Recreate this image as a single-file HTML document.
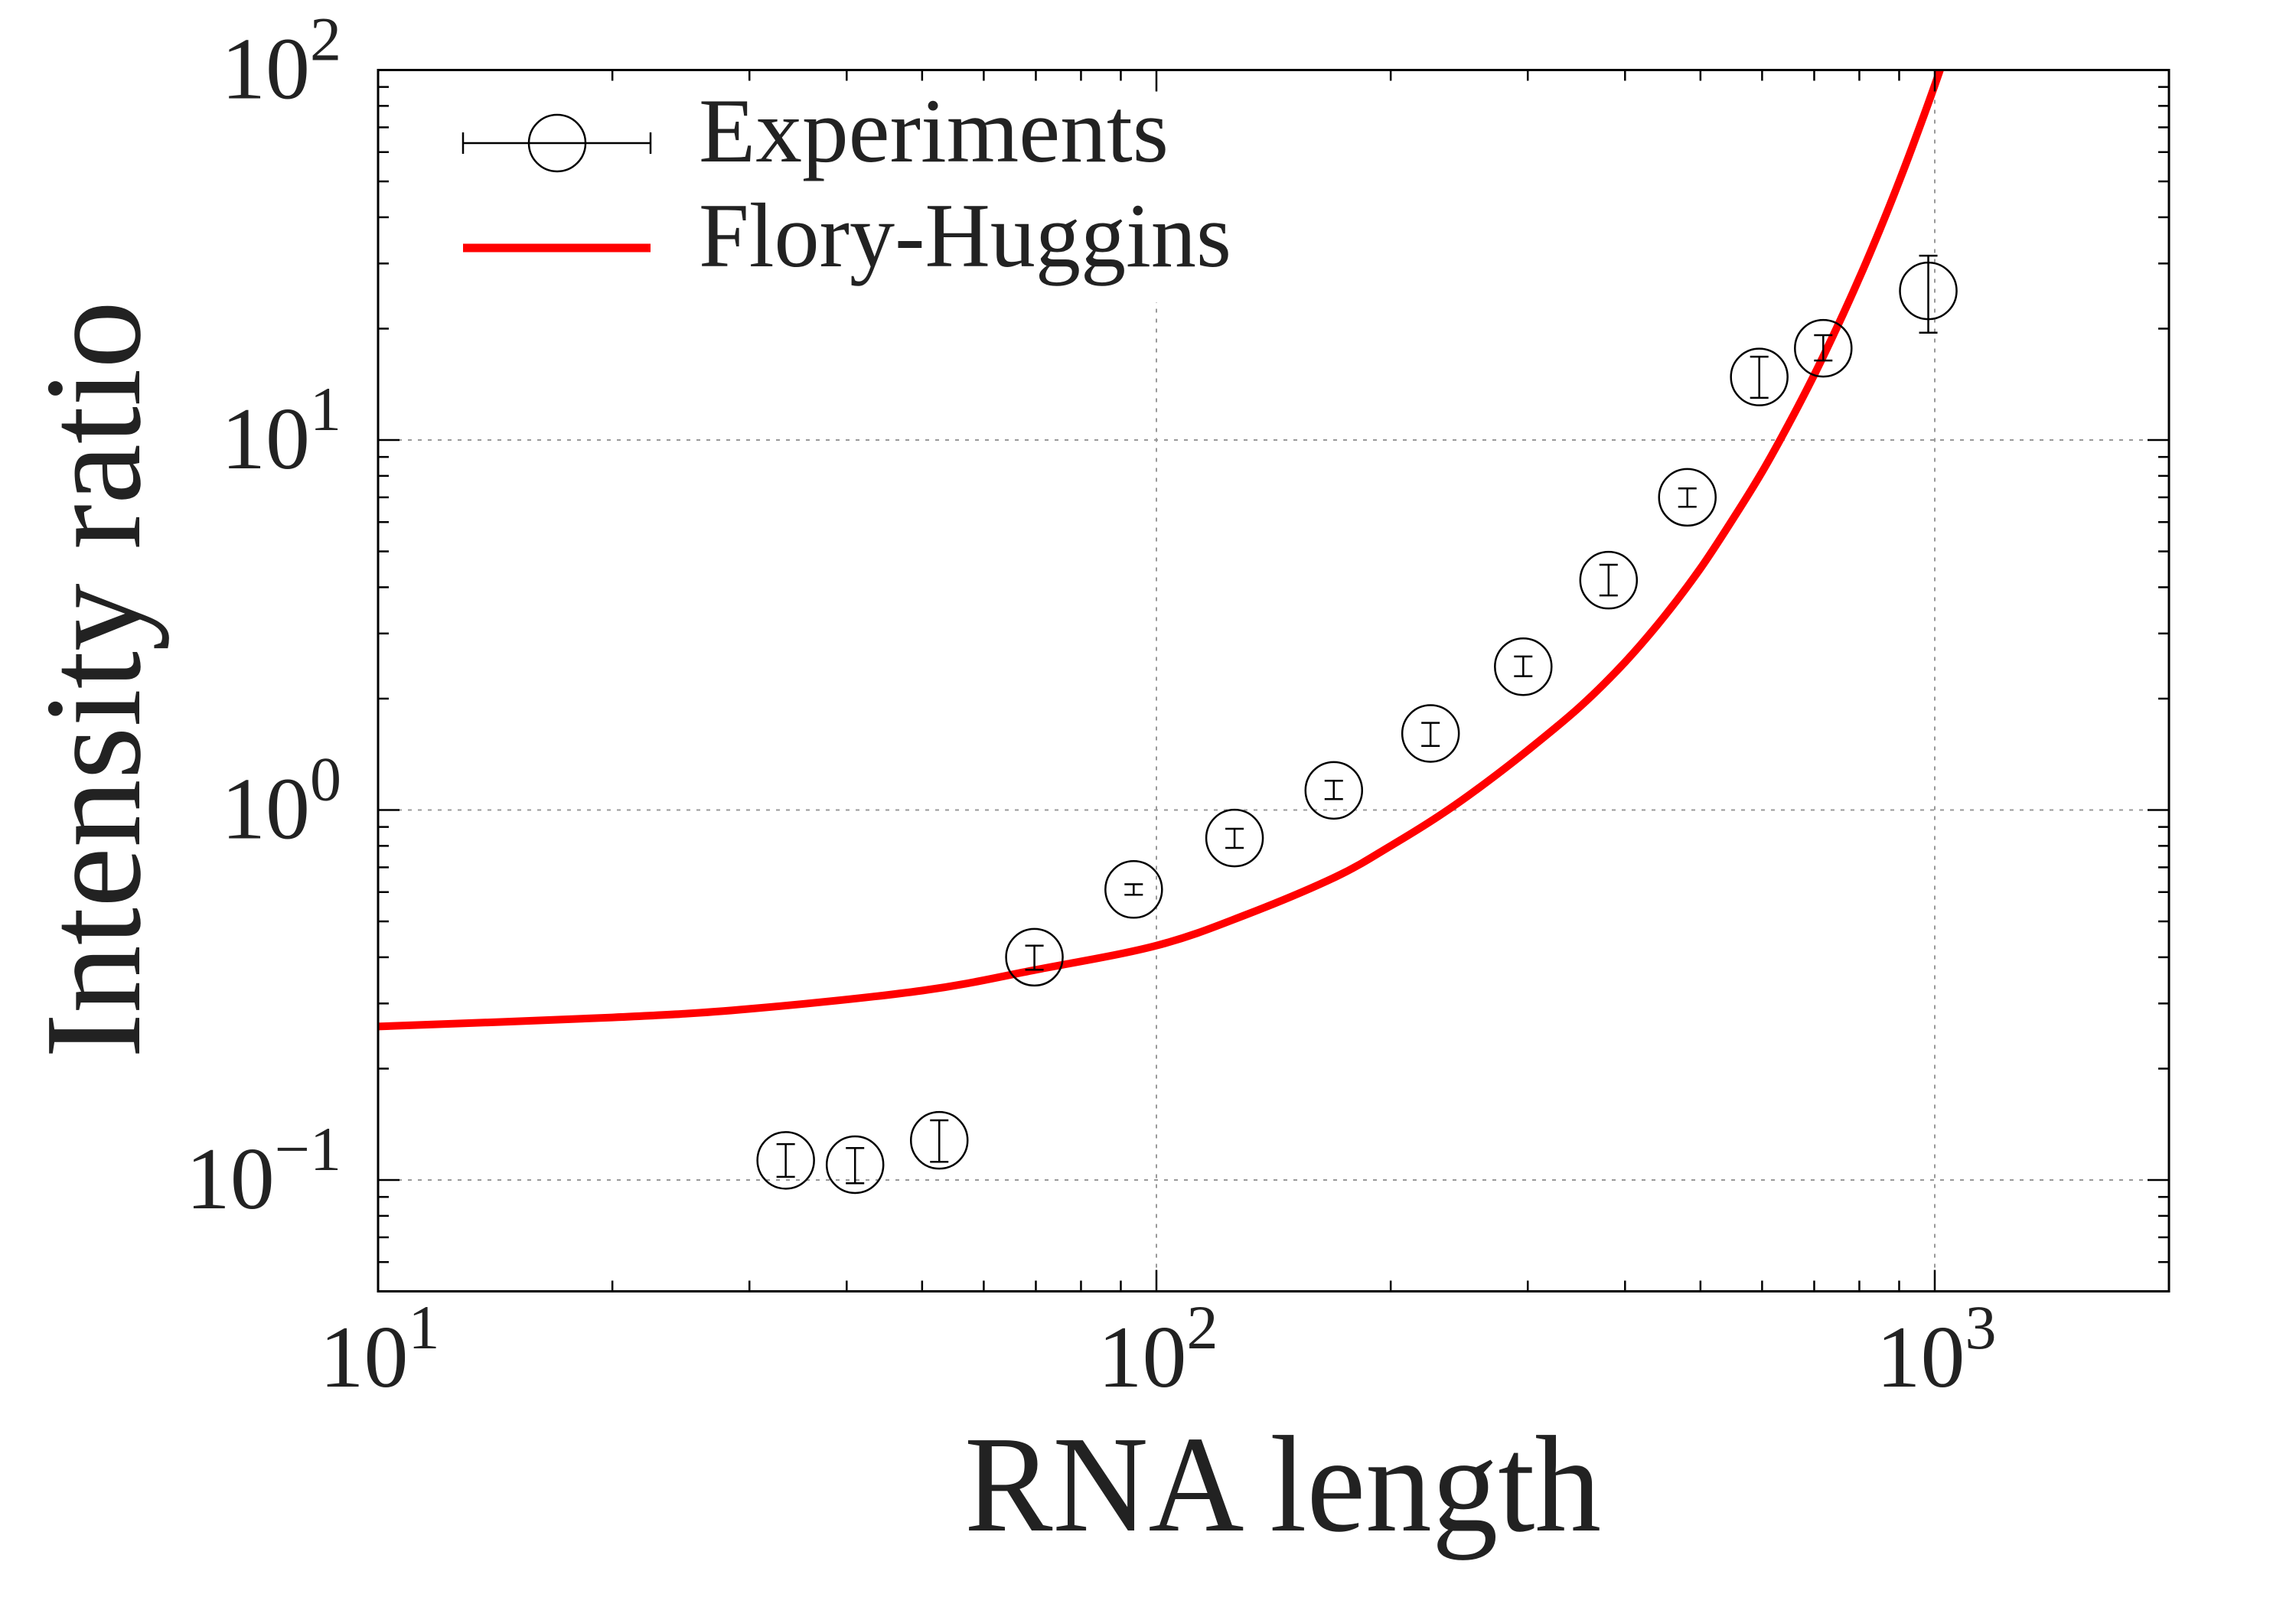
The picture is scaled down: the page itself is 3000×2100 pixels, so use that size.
<!DOCTYPE html>
<html><head><meta charset="utf-8"><style>
html,body{margin:0;padding:0;background:#fff;}
svg{display:block;font-family:"Liberation Serif",serif;}
</style></head><body>
<svg id="chart" width="3000" height="2100" viewBox="0 0 3000 2100" xmlns="http://www.w3.org/2000/svg">
<rect width="3000" height="2100" fill="#fff"/>
<defs><clipPath id="plotclip"><rect x="494" y="91.5" width="2340" height="1596"/></clipPath></defs>
<g id="grid"></g>
<g id="curve" clip-path="url(#plotclip)"></g>
<g id="points"></g>
<g id="legend">
  <rect x="540" y="100" width="1110" height="295" fill="#fff"/>
  <g>
    <line x1="605" y1="187" x2="850" y2="187" stroke="#000" stroke-width="2.5"/>
    <line x1="605" y1="173" x2="605" y2="201" stroke="#000" stroke-width="2.5"/>
    <line x1="850" y1="173" x2="850" y2="201" stroke="#000" stroke-width="2.5"/>
    <circle cx="728" cy="187" r="37" fill="none" stroke="#000" stroke-width="2.5"/>
    <text x="913" y="211" font-size="120" fill="#222" textLength="614" lengthAdjust="spacingAndGlyphs">Experiments</text>
  </g>
  <g>
    <line x1="605" y1="324" x2="850" y2="324" stroke="#ff0000" stroke-width="11"/>
    <text x="913" y="348" font-size="120" fill="#222" textLength="696" lengthAdjust="spacingAndGlyphs">Flory-Huggins</text>
  </g>
</g>
<g id="axes"></g>
<text x="1676" y="2000" font-size="180" text-anchor="middle" fill="#222" textLength="832" lengthAdjust="spacingAndGlyphs">RNA length</text>
<text transform="translate(182,888) rotate(-90)" x="0" y="0" font-size="180" text-anchor="middle" fill="#222" textLength="990" lengthAdjust="spacingAndGlyphs">Intensity ratio</text>
</svg>
<script>
// Data
const expLength = [33.4, 41, 52.6, 69.7, 93.5, 126, 169, 225, 296, 381, 481, 595, 719, 981];
const expRatio  = [0.113, 0.110, 0.128, 0.40, 0.61, 0.84, 1.13, 1.61, 2.44, 4.18, 7.0, 14.8, 17.7, 25.3];
const expLow    = [0.102, 0.098, 0.112, 0.37, 0.59, 0.79, 1.07, 1.49, 2.3, 3.8, 6.6, 13.0, 16.4, 19.5];
const expHigh   = [0.125, 0.122, 0.145, 0.43, 0.63, 0.89, 1.20, 1.72, 2.6, 4.6, 7.4, 16.8, 19.2, 31.5];
const fhLength  = [10, 20, 30, 50, 70, 100, 130, 170, 200, 230, 260, 300, 350, 400, 450, 500, 550, 600, 650, 700, 750, 800, 850, 900, 950, 1000, 1050];
const fhRatio   = [0.26, 0.275, 0.29, 0.325, 0.37, 0.43, 0.52, 0.66, 0.80, 0.96, 1.15, 1.45, 1.90, 2.51, 3.35, 4.5, 6.1, 8.2, 11.1, 15.0, 20.3, 27.4, 37, 50, 67.5, 91, 123];
const xMajorTicks = [10, 100, 1000];
const xTickLabels = ["1", "2", "3"];
const yMajorTicks = [0.1, 1, 10, 100];
const yTickLabels = ["\u22121", "0", "1", "2"];

const NS = "http://www.w3.org/2000/svg";
const X0 = 494, XDEC = 1017, Y0 = 1542, YDEC = 483.5;
const L = 494, R = 2834, T = 91.5, B = 1687.5;
function xs(v){ return X0 + XDEC*(Math.log10(v) - 1); }
function ys(v){ return Y0 - YDEC*(Math.log10(v) + 1); }
function mk(tag, attrs, parent){
  const e = document.createElementNS(NS, tag);
  for (const k in attrs) e.setAttribute(k, attrs[k]);
  parent.appendChild(e);
  return e;
}
const grid = document.getElementById('grid');
xMajorTicks.forEach(v => {
  const x = xs(v);
  if (x > L + 5 && x < R - 5) {
    const g = mk('line', {x1:x, y1:T, x2:x, y2:B, stroke:'#999', 'stroke-width':2, 'stroke-dasharray':'5 8'}, grid);
    
    
  }
});
yMajorTicks.forEach(v => {
  const y = ys(v);
  if (y > T + 5 && y < B - 5) {
    const g = mk('line', {x1:L, y1:y, x2:R, y2:y, stroke:'#999', 'stroke-width':2, 'stroke-dasharray':'5 8'}, grid);
    
    
  }
});
// curve (Catmull-Rom smoothing in screen space)
const curve = document.getElementById('curve');
const P = fhLength.map((n, i) => [xs(n), ys(fhRatio[i])]);
let d = 'M' + P[0][0].toFixed(1) + ',' + P[0][1].toFixed(1);
for (let i = 0; i < P.length - 1; i++) {
  const p0 = P[Math.max(0, i-1)], p1 = P[i], p2 = P[i+1], p3 = P[Math.min(P.length-1, i+2)];
  const c1 = [p1[0] + (p2[0]-p0[0])/6, p1[1] + (p2[1]-p0[1])/6];
  const c2 = [p2[0] - (p3[0]-p1[0])/6, p2[1] - (p3[1]-p1[1])/6];
  d += 'C' + c1[0].toFixed(1) + ',' + c1[1].toFixed(1) + ' ' + c2[0].toFixed(1) + ',' + c2[1].toFixed(1) + ' ' + p2[0].toFixed(1) + ',' + p2[1].toFixed(1);
}
const path = mk('path', {d:d, fill:'none', stroke:'#ff0000', 'stroke-width':10, 'stroke-linejoin':'round'}, curve);


// points
const pts = document.getElementById('points');
expLength.forEach((n, i) => {
  const g = mk('g', {}, pts);
  
  
  const x = xs(n), y = ys(expRatio[i]), y1 = ys(expLow[i]), y2 = ys(expHigh[i]);
  mk('line', {x1:x, y1:y1, x2:x, y2:y2, stroke:'#000', 'stroke-width':2.5}, g);
  mk('line', {x1:x-12, y1:y1, x2:x+12, y2:y1, stroke:'#000', 'stroke-width':2.5}, g);
  mk('line', {x1:x-12, y1:y2, x2:x+12, y2:y2, stroke:'#000', 'stroke-width':2.5}, g);
  mk('circle', {cx:x, cy:y, r:37, fill:'none', stroke:'#000', 'stroke-width':2.5}, g);
});
// axes
const ax = document.getElementById('axes');
const frame = mk('rect', {x:L, y:T, width:R-L, height:B-T, fill:'none', stroke:'#000', 'stroke-width':3}, ax);


for (let dec = 10; dec <= 1000; dec *= 10) {
  for (let m = 1; m <= 9; m++) {
    const v = dec*m; if (v > 2000) break;
    const x = xs(v); const len = m === 1 ? 28 : 14;
    if (x <= L+1 || x >= R-1) continue;
    mk('line', {x1:x, y1:B, x2:x, y2:B-len, stroke:'#000', 'stroke-width':2.5}, ax);
    mk('line', {x1:x, y1:T, x2:x, y2:T+len, stroke:'#000', 'stroke-width':2.5}, ax);
  }
}
for (let dec = 0.01; dec <= 100; dec *= 10) {
  for (let m = 1; m <= 9; m++) {
    const v = dec*m; const y = ys(v);
    if (y <= T+1 || y >= B-1) continue;
    const len = m === 1 ? 28 : 14;
    mk('line', {x1:L, y1:y, x2:L+len, y2:y, stroke:'#000', 'stroke-width':2.5}, ax);
    mk('line', {x1:R, y1:y, x2:R-len, y2:y, stroke:'#000', 'stroke-width':2.5}, ax);
  }
}
xMajorTicks.forEach((v, i) => {
  const t = mk('text', {x:xs(v)+2, y:1812, 'font-size':116, 'text-anchor':'middle', fill:'#222'}, ax);
  
  
  t.appendChild(document.createTextNode('10'));
  const s = mk('tspan', {dy:-50, 'font-size':82}, t);
  s.textContent = xTickLabels[i];
});
yMajorTicks.forEach((v, i) => {
  const t = mk('text', {x:446, y:ys(v)+37, 'font-size':116, 'text-anchor':'end', fill:'#222'}, ax);
  
  
  t.appendChild(document.createTextNode('10'));
  const s = mk('tspan', {dy:-50, 'font-size':82}, t);
  s.textContent = yTickLabels[i];
});
</script>
</body></html>
